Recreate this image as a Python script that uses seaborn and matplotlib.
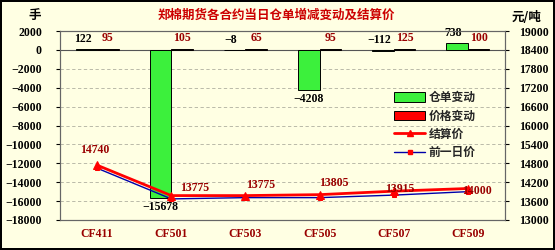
import numpy as np
import pandas as pd
import matplotlib
matplotlib.use("Agg")
import matplotlib.pyplot as plt
from matplotlib.patches import Patch
from matplotlib.lines import Line2D
import seaborn as sns

# ---------------- data ----------------
categories = ["CF411", "CF501", "CF503", "CF505", "CF507", "CF509"]
warrant_change = [122, -15678, -8, -4208, -112, 738]      # 仓单变动 (手)
price_change = [95, 105, 65, 95, 125, 100]                # 价格变动 (元/吨)
settle_price = [14740, 13775, 13775, 13805, 13915, 14000]  # 结算价
prev_price = [14645, 13670, 13710, 13710, 13790, 13900]    # 前一日价
series_names = ["仓单变动", "价格变动", "结算价", "前一日价"]
title_text = "郑棉期货各合约当日仓单增减变动及结算价"

# ---------------- style ----------------
sns.set_style("white")
plt.rcParams["font.family"] = ["Liberation Serif", "Noto Sans CJK SC", "DejaVu Sans"]
plt.rcParams["axes.unicode_minus"] = True

CREAM = "#FFFFE3"
GREEN = "#3CF03C"
RED = "#FF0000"
DARKRED = "#990000"
NAVY = "#0000AA"
CJK = ["Noto Sans CJK SC", "DejaVu Sans"]


def fmt(v):
    return f"{v}".replace("-", "\u2212")


fig = plt.figure(figsize=(5.55, 2.5), dpi=100, facecolor=CREAM)
ax = fig.add_axes([60 / 555, 1 - 220 / 250, 445 / 555, 189 / 250])
ax.set_facecolor(CREAM)

df = pd.DataFrame({
    "合约": categories * 2,
    "系列": [series_names[0]] * len(categories) + [series_names[1]] * len(categories),
    "值": warrant_change + price_change,
})
sns.barplot(data=df, x="合约", y="值", hue="系列", order=categories,
            hue_order=series_names[:2], palette=[GREEN, RED], width=0.58,
            edgecolor="black", linewidth=0.7, ax=ax, legend=False,
            errorbar=None, saturation=1, zorder=3)

ax.set_xlim(-0.5, len(categories) - 0.5)
ax.set_ylim(-18000, 2000)
ax.set_yticks(np.arange(-18000, 2001, 2000))
ax.set_yticklabels([fmt(t) for t in range(-18000, 2001, 2000)])
ax.yaxis.grid(True, linestyle=(0, (4, 3)), color="#B0B0A0", linewidth=0.6, zorder=0)
ax.set_axisbelow(True)
ax.axhline(0, color="#555555", linewidth=0.8, zorder=2)
ax.set_xlabel("")
ax.set_ylabel("")
ax.tick_params(axis="y", direction="out", length=3, width=0.8, pad=10,
               labelsize=8.5, colors="black", left=True)
ax.tick_params(axis="x", length=0, pad=6, labelsize=8.5, labelcolor=DARKRED)
for lab in ax.get_yticklabels() + ax.get_xticklabels():
    lab.set_fontweight("bold")
for side in ["left", "right", "top", "bottom"]:
    ax.spines[side].set_color("#666666")
    ax.spines[side].set_linewidth(0.8)

# bar value labels
green_bars = ax.containers[0]
red_bars = ax.containers[1]
for rect, v in zip(green_bars, warrant_change):
    cx = rect.get_x() + rect.get_width() / 2
    if v < -1000:
        ax.annotate(fmt(v), xy=(cx, v), xytext=(0, -9), textcoords="offset pixels",
                    ha="center", va="center", fontsize=8.5, fontweight="bold",
                    color="black", zorder=5)
    else:
        top = max(v, 0)
        ax.annotate(fmt(v), xy=(cx - 0.05, top), xytext=(0, 10),
                    textcoords="offset pixels", ha="center", va="center",
                    fontsize=8.5, fontweight="bold", color="black", zorder=5)
for rect, v in zip(red_bars, price_change):
    cx = rect.get_x() + rect.get_width() / 2
    ax.annotate(fmt(v), xy=(cx, v), xytext=(0, 11), textcoords="offset pixels",
                ha="center", va="center", fontsize=8.5, fontweight="bold",
                color=DARKRED, zorder=5)

# ---------------- price lines (right axis) ----------------
ax2 = ax.twinx()
pos = list(range(len(categories)))
sns.lineplot(x=pos, y=prev_price, ax=ax2, color=NAVY, linewidth=1,
             marker="s", markersize=2.5, markerfacecolor=RED, markeredgecolor=RED,
             zorder=4)
sns.lineplot(x=pos, y=settle_price, ax=ax2, color=RED, linewidth=2,
             marker="^", markersize=6, markerfacecolor=RED, markeredgecolor=RED,
             zorder=5)
ax2.set_ylim(13000, 19000)
ax2.set_yticks(np.arange(13000, 19001, 600))
ax2.set_ylabel("")
ax2.tick_params(axis="y", direction="out", length=3, width=0.8, pad=7,
                labelsize=8.5, colors="black", right=True)
for lab in ax2.get_yticklabels():
    lab.set_fontweight("bold")
for side in ["left", "right", "top", "bottom"]:
    ax2.spines[side].set_color("#666666")
    ax2.spines[side].set_linewidth(0.8)
ax2.grid(False)

line_offsets = [(-2, 15), (23, 8), (15, 11), (14, 12), (6, 2), (9, -3)]
for x, v, off in zip(pos, settle_price, line_offsets):
    ax2.annotate(fmt(v), xy=(x, v), xytext=off, textcoords="offset pixels",
                 ha="center", va="center", fontsize=8.5, fontweight="bold",
                 color=DARKRED, zorder=6)

# ---------------- legend ----------------
handles = [
    Patch(facecolor=GREEN, edgecolor="black", linewidth=0.7),
    Patch(facecolor=RED, edgecolor="black", linewidth=0.7),
    Line2D([], [], color=RED, linewidth=2, marker="^", markersize=5),
    Line2D([], [], color=NAVY, linewidth=1, marker="s", markersize=2.5,
           markerfacecolor=RED, markeredgecolor=RED),
]
leg = ax2.legend(handles, series_names, loc="upper left",
                 bbox_to_anchor=(386 / 555, 1 - 83 / 250),
                 bbox_transform=fig.transFigure, frameon=False,
                 prop={"family": CJK, "weight": "bold", "size": 8.5},
                 handlelength=2.6, handleheight=0.9, labelspacing=0.45,
                 handletextpad=0.3, borderpad=0.2)

# ---------------- titles ----------------
fig.text(276 / 555, 1 - 15 / 250, title_text, ha="center", va="center",
         fontsize=9, fontweight="bold", color="#CC0000", family=CJK)
fig.text(35 / 555, 1 - 15 / 250, "手", ha="center", va="center",
         fontsize=9, fontweight="bold", color="black", family=CJK)
fig.text(527 / 555, 1 - 17 / 250, "元/吨", ha="center", va="center",
         fontsize=9, fontweight="bold", color="black", family=CJK)

fig.patch.set_edgecolor("black")
fig.patch.set_linewidth(1.5)
fig.savefig("out.png", dpi=100, facecolor=fig.get_facecolor(),
            edgecolor=fig.get_edgecolor())
